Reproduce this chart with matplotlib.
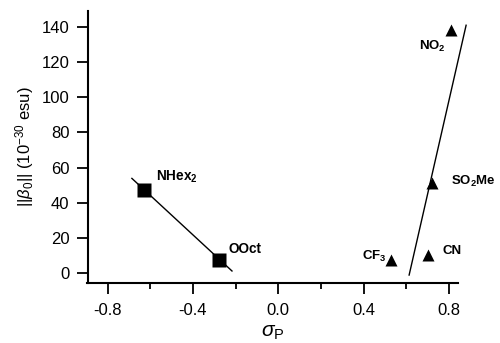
import matplotlib
matplotlib.use("Agg")
import matplotlib.pyplot as plt

plt.rcParams['font.family'] = ['Liberation Sans', 'DejaVu Sans']
plt.rcParams['mathtext.fontset'] = 'custom'
plt.rcParams['mathtext.rm'] = 'Liberation Sans'
plt.rcParams['mathtext.it'] = 'Liberation Sans:italic'
plt.rcParams['mathtext.bf'] = 'Liberation Sans:bold'

# Donor substituents (squares)
donor_labels = [r'NHex$_\mathbf{2}$', 'OOct']
donor_sigma = [-0.631, -0.279]
donor_beta = [47.5, 7.8]
donor_offsets = [(8.6, 9.4), (7.2, 7.9)]
donor_ha = ['left', 'left']

# Acceptor substituents (triangles)
acc_labels = [r'NO$_\mathbf{2}$', r'SO$_\mathbf{2}$Me', r'CF$_\mathbf{3}$', 'CN']
acc_sigma = [0.808, 0.721, 0.528, 0.703]
acc_beta = [138.2, 51.1, 7.6, 10.4]
acc_offsets = [(-3.4, -12.2), (13.5, 1.7), (-2.9, 2.2), (9.9, 2.9)]
acc_ha = ['right', 'left', 'right', 'left']

# Fit lines (endpoints)
fit1_x = [-0.686, -0.217]
fit1_y = [53.9, 1.3]
fit2_x = [0.613, 0.880]
fit2_y = [-1.0, 140.9]

xticks = [-0.8, -0.4, 0.0, 0.4, 0.8]
xminor = [-0.6, -0.2, 0.2, 0.6]
yticks = [0, 20, 40, 60, 80, 100, 120, 140]

fig = plt.figure(figsize=(5.0, 3.43), dpi=100)
ax = fig.add_axes([0.175, 0.174, 0.741, 0.794])

ax.plot(fit1_x, fit1_y, color='black', lw=1.0, clip_on=False)
ax.plot(fit2_x, fit2_y, color='black', lw=1.0, clip_on=False)
ax.plot(donor_sigma, donor_beta, ls='none', marker='s', ms=10.5, color='black', mec='none')
ax.plot(acc_sigma, acc_beta, ls='none', marker='^', ms=9.0, color='black', mec='none')

for lab, x, y, off, ha in zip(donor_labels, donor_sigma, donor_beta, donor_offsets, donor_ha):
    ax.annotate(lab, (x, y), xytext=off, textcoords='offset points', ha=ha, va='center',
                fontsize=9.8, fontweight='bold')
for lab, x, y, off, ha in zip(acc_labels, acc_sigma, acc_beta, acc_offsets, acc_ha):
    ax.annotate(lab, (x, y), xytext=off, textcoords='offset points', ha=ha, va='center',
                fontsize=9.5, fontweight='bold')

ax.set_xlim(-0.894, 0.842)
ax.set_ylim(-5.7, 149)
ax.set_xticks(xticks)
ax.set_xticklabels([f'{v:.1f}' for v in xticks])
ax.set_xticks(xminor, minor=True)
ax.set_yticks(yticks)

for s in ['top', 'right']:
    ax.spines[s].set_visible(False)
for s in ['left', 'bottom']:
    ax.spines[s].set_linewidth(1.5)

ax.tick_params(axis='both', which='major', direction='out', length=8, width=1.3,
               labelsize=12)
ax.tick_params(axis='x', which='major', pad=6)
ax.tick_params(axis='y', which='major', pad=5)
ax.tick_params(axis='x', which='minor', direction='out', length=4, width=1.3)

ax.set_xlabel(r'$\sigma_\mathrm{P}$', fontsize=15, labelpad=4)
ax.set_ylabel(r'||$\beta_0$|| (10$^{-30}$ esu)', fontsize=12, labelpad=4)

fig.savefig('out.png', dpi=100)
